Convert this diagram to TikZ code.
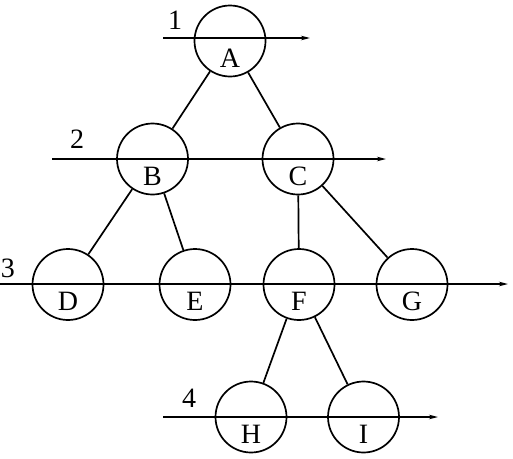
\documentclass[tikz,border=0pt]{standalone}
\usepackage{fontspec}
\setmainfont{Liberation Serif}
\usetikzlibrary{arrows.meta}
\begin{document}
\begin{tikzpicture}[x=1pt,y=-1pt,
  vert/.style={circle,draw,line width=1.7pt,minimum size=71pt,inner sep=0pt},
  txt/.style={font=\fontsize{28}{28}\selectfont,inner sep=0pt},
  edge/.style={line width=1.7pt},
  level/.style={line width=1.7pt,-{Stealth[length=9pt,width=4.5pt]}}]
\useasboundingbox (0,0) rectangle (513,458);
\node[vert] (A) at (230,41) {};
\node[vert] (B) at (152.5,159) {};
\node[vert] (C) at (298,159) {};
\node[vert] (D) at (68,284.5) {};
\node[vert] (E) at (195,284.5) {};
\node[vert] (F) at (299,284.5) {};
\node[vert] (G) at (412,284.5) {};
\node[vert] (H) at (251,417) {};
\node[vert] (I) at (363.5,417) {};
\foreach \n in {A,B,C,D,E,F,G,H,I}
  \node[txt] (\n lab) at ([yshift=-17pt]\n.center) {\n};
\draw[edge] (A) -- (B);
\draw[edge] (A) -- (C);
\draw[edge] (B) -- (D);
\draw[edge] (B) -- (E);
\draw[edge] (C) -- (F);
\draw[edge] (C) -- (G);
\draw[edge] (F) -- (H);
\draw[edge] (F) -- (I);
\coordinate (l1s) at (163,38);  \coordinate (l1e) at (310,38);
\coordinate (l2s) at (52,159);  \coordinate (l2e) at (386,159);
\coordinate (l3s) at (0,284);   \coordinate (l3e) at (508,284);
\coordinate (l4s) at (163,417); \coordinate (l4e) at (438,417);
\draw[level] (l1s) -- (l1e);
\draw[level] (l2s) -- (l2e);
\draw[level] (l3s) -- (l3e);
\draw[level] (l4s) -- (l4e);
\node[txt] (n1) at (175,20) {1};
\node[txt] (n2) at (77,139) {2};
\node[txt] (n3) at (8,268) {3};
\node[txt] (n4) at (189,398) {4};
\end{tikzpicture}
\end{document}
